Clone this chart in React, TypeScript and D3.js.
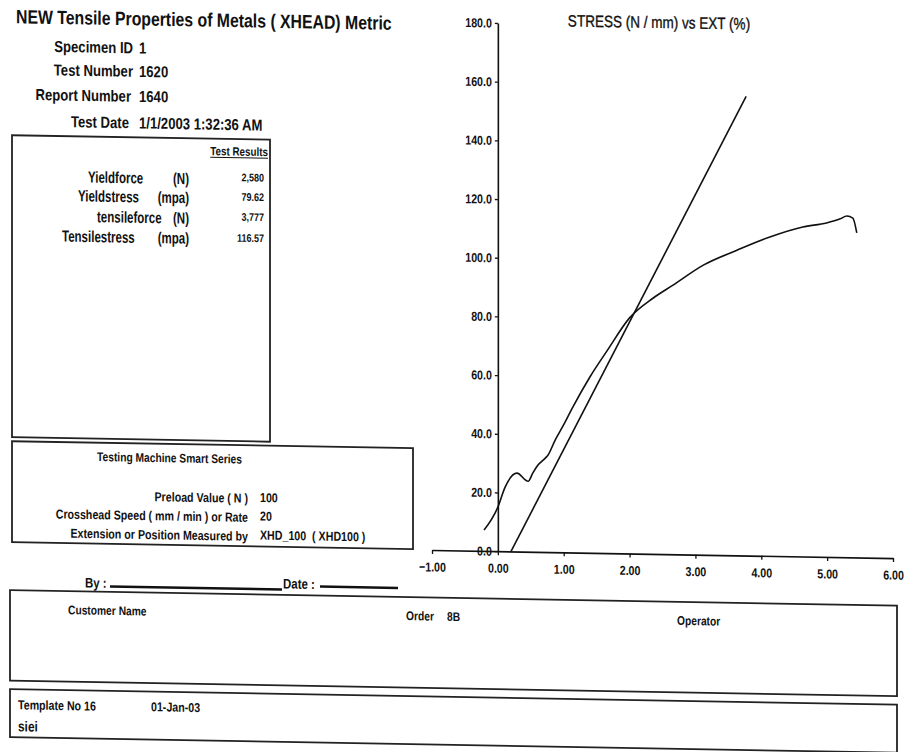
import React, { useEffect, useRef } from 'react';
import * as d3 from 'd3';

// stress / extension curve
const curveExt = [-0.21, 0, 0.11, 0.29, 0.46, 0.53, 0.61, 0.72, 0.76, 0.87, 1.0, 1.13, 1.4, 1.66, 2.0, 2.36, 2.66, 3.12, 3.63, 4.13, 4.63, 4.99, 5.2, 5.3, 5.39, 5.45];
const curveStress = [7.1, 15, 21.9, 26.7, 24, 26.8, 29.6, 32, 33, 38.2, 43.5, 49.2, 60, 69, 80.3, 87.2, 91.7, 98.7, 104, 108.7, 112.3, 113.8, 115.3, 116.3, 115.6, 110.6];
// modulus (offset) line
const modulusExt = [0.2, 3.77];
const modulusStress = [0, 156.5];

const extTicks = [-1, 0, 1, 2, 3, 4, 5, 6];
const stressTicks = [0, 20, 40, 60, 80, 100, 120, 140, 160, 180];

const headerLabels = ['Specimen ID', 'Test Number', 'Report Number', 'Test Date'];
const headerValues = ['1', '1620', '1640', '1/1/2003 1:32:36 AM'];
const resultNames = ['Yieldforce', 'Yieldstress', 'tensileforce', 'Tensilestress'];
const resultUnits = ['(N)', '(mpa)', '(N)', '(mpa)'];
const resultValues = ['2,580', '79.62', '3,777', '116.57'];
const machineLabels = ['Preload Value ( N )', 'Crosshead Speed ( mm / min ) or Rate', 'Extension or Position Measured by'];
const machineValues = ['100', '20', 'XHD_100  ( XHD100 )'];

const FONT = '"Liberation Sans", Arial, sans-serif';
const INK = '#111';
const NARROW = 0.82;

const App = () => {
  const svgRef = useRef(null);

  useEffect(() => {
    const svg = d3.select(svgRef.current)
      .attr('width', 907)
      .attr('height', 752);

    svg.selectAll('*').remove();
    svg.append('rect').attr('width', 907).attr('height', 752).attr('fill', '#fff');

    // the scan is slightly skewed, right side sits lower
    const root = svg.append('g').attr('transform', 'skewY(1)');

    const txt = (str, x, y, size, anchor = 'start', weight = 700, sx = NARROW) =>
      root.append('text')
        .attr('transform', `translate(${x},${y}) scale(${sx},1)`)
        .attr('text-anchor', anchor)
        .attr('fill', INK)
        .style('font-family', FONT)
        .style('font-size', size + 'px')
        .style('font-weight', weight)
        .style('white-space', 'pre')
        .text(str);

    const box = (x, y, w, h) =>
      root.append('rect')
        .attr('x', x).attr('y', y).attr('width', w).attr('height', h)
        .attr('fill', 'none').attr('stroke', '#222').attr('stroke-width', 1.8);

    // header
    txt('NEW Tensile Properties of Metals ( XHEAD) Metric', 16, 23, 19.3);
    const headerEnd = [133, 133, 131, 129];
    const headerY = [51, 74.5, 99.5, 126];
    headerLabels.forEach((l, i) => {
      txt(l, headerEnd[i], headerY[i], 16, 'end');
      txt(headerValues[i], 139, headerY[i], 16);
    });

    // test results box
    box(12, 135, 258, 302);
    const tr = txt('Test Results', 268, 151.5, 12, 'end');
    const trW = tr.node().getComputedTextLength() * NARROW;
    root.append('line')
      .attr('x1', 268 - trW).attr('x2', 268).attr('y1', 153.5).attr('y2', 153.5)
      .attr('stroke', INK).attr('stroke-width', 1);
    const nameX = [88, 78, 97, 62];
    const rowY = [181, 200, 220.5, 240.5];
    const valY = [177, 196.5, 216.5, 237.5];
    resultNames.forEach((n, i) => {
      txt(n, nameX[i], rowY[i], 16, 'start', 700, 0.72);
      txt(resultUnits[i], 189, rowY[i], 16, 'end', 700, 0.72);
      txt(resultValues[i], 264, valY[i], 11, 'end');
    });

    // machine box
    box(12, 441, 401, 101);
    txt('Testing Machine Smart Series', 97, 459.3, 12.5);
    const mY = [498.5, 517.5, 536.5];
    const mvY = [497.5, 516, 535];
    machineLabels.forEach((l, i) => {
      txt(l, 248, mY[i], 13, 'end');
      txt(machineValues[i], 260, mvY[i], 13);
    });

    // signature line
    txt('By :', 85, 586, 14);
    root.append('line').attr('x1', 110).attr('x2', 282).attr('y1', 584.5).attr('y2', 584.5)
      .attr('stroke', INK).attr('stroke-width', 2.5);
    txt('Date :', 283, 583.5, 14);
    root.append('line').attr('x1', 320).attr('x2', 398).attr('y1', 581).attr('y2', 581)
      .attr('stroke', INK).attr('stroke-width', 2.5);

    // customer box
    box(10, 590, 887, 90.5);
    txt('Customer Name', 68, 613, 12.5);
    txt('Order', 406, 613, 12.5);
    txt('8B', 447, 613, 12.5);
    txt('Operator', 677, 613, 12.5);

    // template box
    box(10, 689, 887, 48);
    txt('Template No 16', 18, 709, 13);
    txt('01-Jan-03', 151, 708.6, 13);
    txt('siei', 18, 731, 14.5);

    // chart
    const x = d3.scaleLinear().domain([-1, 6]).range([432, 893]);
    const y = d3.scaleLinear().domain([0, 180]).range([542.5, 14.3]);

    txt('STRESS (N / mm) vs EXT (%)', 659, 16.5, 16.5, 'middle', 400)
      .attr('stroke', INK).attr('stroke-width', 0.35);

    const styleAxis = (g) => {
      g.select('.domain').attr('stroke', INK).attr('stroke-width', 1.6);
      g.selectAll('.tick line').attr('stroke', INK).attr('stroke-width', 1.3);
      g.selectAll('.tick text')
        .attr('fill', INK)
        .style('font-family', FONT)
        .style('font-size', '13px')
        .style('font-weight', 700);
    };

    const yAxis = root.append('g')
      .attr('transform', `translate(${x(0)},0)`)
      .call(d3.axisLeft(y).tickValues(stressTicks).tickFormat(d3.format('.1f'))
        .tickSize(3).tickPadding(4.3).tickSizeOuter(0));
    styleAxis(yAxis);
    yAxis.selectAll('.tick text').attr('transform', `scale(${NARROW},1)`);

    const xAxis = root.append('g')
      .attr('transform', `translate(0,${y(0)})`)
      .call(d3.axisBottom(x).tickValues(extTicks).tickFormat(d3.format('.2f'))
        .tickSize(4).tickPadding(8.3).tickSizeOuter(0));
    styleAxis(xAxis);
    xAxis.selectAll('.tick text').attr('transform', `scale(${NARROW},1)`);

    const line = d3.line()
      .x(d => x(d[0]))
      .y(d => y(d[1]));

    root.append('path')
      .datum(curveExt.map((e, i) => [e, curveStress[i]]))
      .attr('d', line.curve(d3.curveMonotoneX))
      .attr('fill', 'none').attr('stroke', INK).attr('stroke-width', 1.6);

    root.append('path')
      .datum(modulusExt.map((e, i) => [e, modulusStress[i]]))
      .attr('d', d3.line().x(d => x(d[0])).y(d => y(d[1])))
      .attr('fill', 'none').attr('stroke', INK).attr('stroke-width', 1.6);
  }, []);

  return (
    <div style={{ position: 'absolute', left: 0, top: 0 }}>
      <svg ref={svgRef} style={{ display: 'block' }}></svg>
    </div>
  );
};

export default App;
